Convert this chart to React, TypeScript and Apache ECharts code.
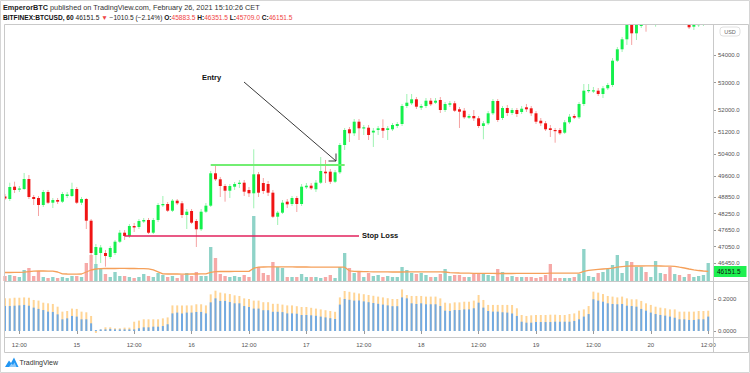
import React, { useEffect, useRef } from "react";
import * as echarts from "echarts";

const FONT = "'Liberation Sans', Arial, sans-serif";

// ---- time slots (hourly, BITFINEX:BTCUSD 60) ----
const START_DAY = 14;
const START_HOUR = 9;
const SLOT_COUNT = 149;
const categories: string[] = Array.from({ length: SLOT_COUNT }, (_, i) => {
  const t = START_HOUR + i;
  const d = START_DAY + Math.floor(t / 24);
  const h = t % 24;
  return `${d} ${String(h).padStart(2, "0")}:00`;
});

// ---- candles: [open, close, low, high] ----
const candles: number[][] = [
  [48870, 48798, 48743, 48961], [48779, 49214, 48707, 49370], [49225, 49106, 48997, 49406], [49124, 49160, 49033, 49250],
  [49142, 49504, 49106, 49722], [49504, 48852, 48779, 49649], [48852, 48779, 48562, 48924], [48816, 48562, 48163, 48888],
  [48562, 49033, 48490, 49106], [49033, 48645, 48598, 49106], [48645, 48743, 48453, 48816], [48743, 48682, 48598, 48816],
  [48682, 48961, 48634, 49033], [48888, 48943, 48816, 49033], [48888, 49142, 48852, 49370], [49142, 48645, 48598, 49214],
  [48645, 48779, 48562, 48852], [48779, 47993, 47692, 48816], [47993, 46823, 46508, 48055], [46750, 47040, 46424, 47149],
  [46823, 47022, 46461, 47113], [46823, 46714, 46326, 46932], [46678, 47004, 46605, 47077], [46823, 47232, 46750, 47294],
  [47232, 47558, 47185, 47656], [47558, 47439, 47294, 47656], [47439, 47801, 47366, 47873], [47801, 47747, 47584, 47910],
  [47765, 47982, 47692, 48055], [47964, 48019, 47910, 48091], [48019, 47558, 47511, 48091], [47558, 48019, 47511, 48091],
  [48019, 48562, 47946, 48634], [48551, 48598, 48490, 48888], [48598, 48356, 48308, 48671], [48356, 48718, 48308, 48779],
  [48718, 48624, 48562, 48779], [48624, 48200, 48091, 48707], [48200, 48319, 47692, 48417], [48345, 47921, 47874, 48417],
  [47982, 47682, 47040, 48055], [47682, 48319, 47620, 48417], [48319, 48537, 48272, 48634], [48537, 49711, 48490, 49794],
  [49711, 49493, 49432, 50011], [49493, 49250, 48852, 49577], [49250, 49080, 48682, 49323], [49080, 49250, 48816, 49323],
  [49225, 49323, 49106, 49395], [49323, 49370, 49178, 49468], [49370, 49044, 48888, 49468], [49106, 48986, 48852, 49214],
  [48986, 49674, 48442, 50580], [49674, 49008, 48852, 49758], [49359, 49069, 48961, 49540], [49323, 49008, 48888, 49432],
  [49008, 48138, 48091, 49106], [48138, 48283, 47837, 48345], [48283, 48645, 48236, 48743], [48682, 48587, 48453, 48779],
  [48598, 48816, 48526, 48888], [48816, 48598, 48308, 48888], [48598, 49225, 48526, 49323], [49203, 49261, 49142, 49359],
  [49261, 49167, 49106, 49359], [49131, 49370, 49033, 49468], [49370, 49794, 49323, 50301], [49769, 49711, 49359, 50193],
  [49769, 49406, 49323, 49866], [49406, 49747, 49359, 49830], [49747, 50736, 49685, 50808], [50736, 51280, 50555, 51352],
  [51305, 51160, 50845, 51388], [51160, 51580, 51062, 51678], [51580, 51341, 50917, 51678], [51341, 51377, 51098, 51461],
  [51363, 51098, 50917, 51461], [51189, 51254, 50664, 51352], [51280, 51341, 51098, 51424], [51352, 51254, 50990, 51667],
  [51280, 51341, 50917, 51424], [51305, 51461, 51243, 51533], [51424, 51497, 51352, 51569], [51497, 52149, 51424, 52222],
  [52149, 52269, 52077, 52584], [52247, 52392, 52185, 52584], [52392, 52124, 52041, 52475], [52088, 52149, 52004, 52222],
  [52149, 52341, 52077, 52439], [52341, 52211, 52149, 52439], [52269, 52341, 52222, 52439], [52367, 52004, 51896, 52475],
  [52004, 52222, 51932, 52294], [52196, 52247, 52113, 52330], [52247, 51979, 51932, 52330], [52030, 51943, 51352, 52113],
  [51979, 51740, 51678, 52077], [51725, 51787, 51678, 51859], [51787, 51703, 51606, 52004], [51703, 51424, 51352, 51787],
  [51424, 51522, 50943, 51606], [51522, 51885, 51461, 51968], [51885, 52330, 51823, 52403], [52330, 51642, 51570, 52403],
  [51714, 52077, 51642, 52149], [52077, 51896, 51787, 52185], [51896, 52004, 51823, 52077], [52004, 51859, 51751, 52077],
  [51932, 52051, 51859, 52149], [52102, 52030, 51932, 52222], [52066, 51885, 51787, 52149], [51885, 51580, 51497, 51968],
  [51616, 51522, 51424, 51714], [51522, 51305, 51243, 51606], [51341, 51280, 51026, 51461], [51280, 51243, 50819, 51352],
  [51280, 51160, 51098, 51352], [51182, 51559, 51134, 51642], [51559, 51761, 51497, 51859], [51787, 51725, 51678, 51859],
  [51740, 52222, 51678, 52294], [52222, 52704, 52149, 52946], [52693, 52729, 52620, 52946], [52693, 52718, 52620, 52838],
  [52704, 52584, 52511, 52801], [52584, 52791, 52439, 52874], [52791, 52910, 52729, 52983], [52910, 53791, 52838, 53888],
  [53791, 54204, 53743, 54287], [54204, 54566, 54106, 54649], [54566, 55084, 54360, 55157], [55084, 54783, 54360, 55157],
  [54783, 55084, 54541, 55193], [55048, 55120, 54975, 55265], [55338, 55193, 54841, 55483], [55193, 55555, 55120, 55700],
  [55555, 55700, 55023, 55809], [55700, 55809, 55447, 55918], [55809, 55628, 55410, 55918], [55628, 55410, 55265, 55773],
  [55410, 55628, 55265, 55773], [55628, 55410, 55229, 55773], [55338, 55483, 55193, 55628], [55265, 55001, 54939, 55338],
  [55023, 55084, 54903, 55193], [55084, 55120, 55012, 55193], [55102, 55146, 55048, 55265], [55146, 55447, 55120, 55628],
];

// ---- volume (BTC) ----
const volumes: number[] = [
  125, 150, 125, 100, 275, 325, 125, 250, 100, 75, 100, 75, 100, 75, 125, 125, 100, 450, 650, 425,
  300, 175, 100, 225, 125, 125, 100, 75, 100, 175, 125, 100, 200, 150, 100, 125, 75, 150, 200, 125,
  225, 125, 125, 850, 575, 175, 125, 100, 125, 100, 150, 100, 1625, 350, 200, 150, 475, 350, 325, 100,
  100, 100, 175, 100, 100, 100, 75, 100, 150, 75, 350, 700, 325, 200, 225, 100, 200, 125, 150, 100,
  125, 100, 100, 350, 275, 200, 175, 200, 150, 100, 100, 175, 300, 125, 150, 150, 100, 100, 175, 200,
  175, 150, 125, 300, 225, 100, 125, 100, 100, 100, 100, 75, 100, 150, 425, 75, 75, 75, 75, 100,
  175, 800, 125, 100, 200, 225, 300, 400, 650, 200, 500, 475, 350, 350, 225, 100, 500, 200, 175, 350,
  175, 150, 100, 175, 100, 125, 150, 450,
];

// ---- volume moving average (BTC) ----
const volumeMA: number[] = [
  212, 212, 215, 218, 222, 235, 245, 250, 250, 248, 245, 225, 180, 175, 172, 172, 175, 225, 275, 300,
  310, 312, 312, 312, 314, 314, 312, 312, 310, 308, 305, 280, 230, 180, 175, 175, 175, 172, 172, 175,
  175, 178, 180, 215, 235, 238, 238, 238, 240, 240, 240, 240, 320, 345, 350, 352, 352, 355, 355, 355,
  352, 350, 350, 350, 348, 348, 348, 345, 345, 345, 345, 345, 255, 240, 238, 235, 232, 230, 228, 228,
  226, 225, 225, 225, 226, 228, 230, 230, 230, 228, 228, 226, 225, 210, 205, 200, 198, 195, 192, 192,
  190, 190, 190, 188, 188, 188, 188, 190, 190, 190, 190, 192, 192, 192, 195, 195, 195, 195, 195, 195,
  198, 240, 265, 280, 290, 300, 310, 320, 345, 360, 370, 375, 375, 375, 378, 378, 378, 375, 372, 370,
  368, 345, 325, 300, 280, 262, 250, 240,
];

// ---- lower pane oscillator ----
const oscOrange: number[] = [
  0.204, 0.204, 0.208, 0.208, 0.210, 0.208, 0.194, 0.190, 0.177, 0.173, 0.169, 0.152, 0.121, 0.125, 0.140, 0.138, 0.121, 0.117, 0.094, -0.012,
  0.008, 0.023, 0.023, 0.017, 0.017, 0.021, 0.021, 0.058, 0.065, 0.073, 0.073, 0.073, 0.073, 0.079, 0.085, 0.160, 0.160, 0.160, 0.160, 0.160,
  0.167, 0.167, 0.160, 0.229, 0.252, 0.240, 0.235, 0.231, 0.223, 0.219, 0.204, 0.200, 0.190, 0.190, 0.180, 0.180, 0.170, 0.170, 0.165, 0.160,
  0.160, 0.155, 0.150, 0.150, 0.145, 0.140, 0.135, 0.130, 0.125, 0.120, 0.210, 0.250, 0.245, 0.240, 0.235, 0.230, 0.225, 0.220, 0.215, 0.210,
  0.205, 0.200, 0.200, 0.260, 0.225, 0.219, 0.219, 0.219, 0.215, 0.215, 0.215, 0.204, 0.177, 0.173, 0.179, 0.179, 0.183, 0.183, 0.190, 0.225,
  0.194, 0.163, 0.163, 0.163, 0.163, 0.163, 0.163, 0.142, 0.100, 0.094, 0.098, 0.100, 0.100, 0.100, 0.102, 0.102, 0.100, 0.100, 0.106, 0.110,
  0.127, 0.135, 0.156, 0.246, 0.240, 0.231, 0.219, 0.215, 0.210, 0.215, 0.204, 0.198, 0.198, 0.188, 0.173, 0.163, 0.152, 0.146, 0.142, 0.135,
  0.135, 0.121, 0.121, 0.121, 0.121, 0.125, 0.125, 0.127,
];
const oscBlue: number[] = [
  0.156, 0.156, 0.158, 0.160, 0.163, 0.158, 0.146, 0.138, 0.131, 0.121, 0.119, 0.104, 0.073, 0.079, 0.094, 0.090, 0.073, 0.073, 0.048, 0.006,
  0.010, 0.010, 0.013, 0.010, 0.010, 0.010, 0.010, 0.010, 0.017, 0.023, 0.023, 0.027, 0.027, 0.031, 0.042, 0.110, 0.115, 0.110, 0.115, 0.115,
  0.119, 0.119, 0.110, 0.179, 0.204, 0.188, 0.188, 0.181, 0.173, 0.173, 0.156, 0.150, 0.140, 0.140, 0.130, 0.130, 0.120, 0.120, 0.118, 0.110,
  0.110, 0.108, 0.100, 0.100, 0.098, 0.095, 0.090, 0.085, 0.080, 0.075, 0.165, 0.200, 0.195, 0.190, 0.190, 0.185, 0.180, 0.175, 0.170, 0.165,
  0.160, 0.155, 0.155, 0.210, 0.204, 0.173, 0.169, 0.173, 0.167, 0.167, 0.167, 0.156, 0.127, 0.125, 0.131, 0.131, 0.135, 0.135, 0.142, 0.177,
  0.146, 0.125, 0.121, 0.121, 0.117, 0.115, 0.110, 0.094, 0.058, 0.052, 0.052, 0.056, 0.056, 0.056, 0.056, 0.058, 0.058, 0.058, 0.058, 0.063,
  0.073, 0.090, 0.106, 0.198, 0.190, 0.183, 0.173, 0.169, 0.167, 0.169, 0.158, 0.156, 0.152, 0.138, 0.127, 0.115, 0.106, 0.100, 0.096, 0.090,
  0.083, 0.073, 0.073, 0.069, 0.069, 0.073, 0.073, 0.090,
];

// ---- axis ticks & levels ----
const priceTicks = [46450, 47050, 47650, 48250, 48850, 49600, 50400, 51200, 52000, 53000, 54000];
const oscTicks = [0, 0.2];
const lastPrice = 46151.5;
const entryLevel = 50010;
const entryFrom = 43;
const entryTo = 71;
const stopLevel = 47450;
const stopFrom = 25.1;
const stopTo = 73.7;

const UP = "#14f04c";
const DN = "#f01414";
const WICK_UP = "#9ef2b2";
const WICK_DN = "#f5a3a3";
const VOL_UP = "#8fd3c8";
const VOL_DN = "#f6a9a7";
const FRAME = "#c9c9c9";

const isLabelSlot = (_i: number, v: string) => v.endsWith(" 00:00") || v.endsWith(" 12:00");

function buildOption(): any {
  const candleData = candles.map((c, i) => [i, c[0], c[1], c[2], c[3]]);
  const volData = volumes.map((v, i) => ({
    value: v,
    itemStyle: { color: candles[i][1] >= candles[i][0] ? VOL_UP : VOL_DN },
  }));

  return {
    animation: false,
    backgroundColor: "#ffffff",
    textStyle: { fontFamily: FONT },
    grid: [
      { left: 5, right: 37, top: 25, height: 256 },
      { left: 5, right: 37, top: 281, height: 56 },
    ],
    xAxis: [
      {
        type: "category",
        gridIndex: 0,
        data: categories,
        boundaryGap: false,
        axisLine: { show: false },
        axisTick: { show: false },
        axisLabel: { show: false },
        splitLine: { show: false },
      },
      {
        type: "category",
        gridIndex: 1,
        data: categories,
        boundaryGap: false,
        axisLine: { show: false },
        axisTick: { show: true, interval: isLabelSlot, length: 3, lineStyle: { color: "#9a9a9a" } },
        axisLabel: {
          interval: isLabelSlot,
          fontSize: 6,
          color: "#555",
          margin: 5,
          fontFamily: FONT,
          formatter: (v: string) => {
            const [d, hm] = v.split(" ");
            return hm === "00:00" ? d : hm;
          },
        },
        splitLine: { show: false },
      },
    ],
    yAxis: [
      {
        type: "value",
        gridIndex: 0,
        position: "right",
        min: 45808,
        max: 55084,
        axisLine: { show: false },
        axisTick: { show: true, customValues: priceTicks, length: 3, lineStyle: { color: "#9a9a9a" } },
        axisLabel: {
          customValues: priceTicks,
          fontSize: 6,
          color: "#555",
          margin: 5,
          fontFamily: FONT,
          formatter: (v: number) => v.toFixed(1),
        },
        splitLine: { show: false },
      },
      {
        type: "value",
        gridIndex: 0,
        min: 0,
        max: 6400,
        show: false,
      },
      {
        type: "value",
        gridIndex: 1,
        position: "right",
        min: -0.0375,
        max: 0.3125,
        axisLine: { show: false },
        axisTick: { show: true, customValues: oscTicks, length: 3, lineStyle: { color: "#9a9a9a" } },
        axisLabel: {
          customValues: oscTicks,
          fontSize: 6,
          color: "#555",
          margin: 5,
          fontFamily: FONT,
          formatter: (v: number) => v.toFixed(4),
        },
        splitLine: { show: false },
      },
    ],
    series: [
      {
        name: "Volume",
        type: "bar",
        xAxisIndex: 0,
        yAxisIndex: 1,
        data: volData,
        barWidth: "70%",
        silent: true,
        z: 1,
      },
      {
        name: "Volume MA",
        type: "line",
        xAxisIndex: 0,
        yAxisIndex: 1,
        data: volumeMA,
        showSymbol: false,
        symbol: "none",
        lineStyle: { color: "#f5a05a", width: 1.3 },
        silent: true,
        z: 2,
      },
      {
        name: "BTCUSD",
        type: "custom",
        xAxisIndex: 0,
        yAxisIndex: 0,
        data: candleData,
        clip: true,
        z: 3,
        encode: { x: 0, y: [1, 2, 3, 4] },
        renderItem: (_params: any, api: any) => {
          const x = api.value(0);
          const o = api.value(1);
          const c = api.value(2);
          const l = api.value(3);
          const h = api.value(4);
          const po = api.coord([x, o]);
          const pc = api.coord([x, c]);
          const pl = api.coord([x, l]);
          const ph = api.coord([x, h]);
          const w = api.size([1, 0])[0] * 0.62;
          const up = c >= o;
          const top = Math.min(po[1], pc[1]);
          const bh = Math.max(Math.abs(po[1] - pc[1]), 1.2);
          return {
            type: "group",
            children: [
              {
                type: "line",
                shape: { x1: ph[0], y1: ph[1], x2: pl[0], y2: pl[1] },
                style: { stroke: up ? WICK_UP : WICK_DN, lineWidth: 1 },
              },
              {
                type: "rect",
                shape: { x: po[0] - w / 2, y: top, width: w, height: bh },
                style: { fill: up ? UP : DN },
              },
            ],
          };
        },
      },
      {
        name: "Levels",
        type: "line",
        xAxisIndex: 0,
        yAxisIndex: 0,
        data: [],
        silent: true,
        z: 5,
        markLine: {
          silent: true,
          symbol: ["none", "none"],
          animation: false,
          data: [
            [
              { coord: [entryFrom, entryLevel], lineStyle: { color: "#72ee72", width: 2, type: "solid" }, label: { show: false } },
              { coord: [entryTo, entryLevel] },
            ],
            [
              {
                coord: [stopFrom, stopLevel],
                lineStyle: { color: "#e2225c", width: 1.6, type: "solid" },
                label: {
                  show: true,
                  position: "end",
                  formatter: "Stop Loss",
                  color: "#111",
                  fontWeight: "bold",
                  fontSize: 7.5,
                  fontFamily: FONT,
                  distance: 3,
                },
              },
              { coord: [stopTo, stopLevel] },
            ],
            [
              {
                coord: [0, lastPrice],
                lineStyle: { color: "rgba(0,0,0,0)", width: 0.1, type: "solid" },
                label: {
                  show: true,
                  position: "end",
                  formatter: lastPrice.toFixed(1),
                  backgroundColor: "#1ef050",
                  color: "#111",
                  fontSize: 6.5,
                  fontFamily: FONT,
                  padding: [2, 6, 2, 4],
                  distance: 0,
                },
              },
              { coord: [SLOT_COUNT - 1, lastPrice] },
            ],
          ],
        },
      },
      {
        name: "Osc A",
        type: "bar",
        xAxisIndex: 1,
        yAxisIndex: 2,
        data: oscOrange,
        barWidth: 2,
        itemStyle: { color: "#ffd596" },
        silent: true,
      },
      {
        name: "Osc B",
        type: "bar",
        xAxisIndex: 1,
        yAxisIndex: 2,
        data: oscBlue,
        barWidth: 2,
        barGap: "-100%",
        itemStyle: { color: "#72aae2" },
        silent: true,
      },
    ],
    graphic: [
      // outer border
      { type: "rect", shape: { x: 0.5, y: 0.5, width: 749, height: 372 }, style: { fill: "none", stroke: "#d6d6d6", lineWidth: 1 }, silent: true, z: 10 },
      // chart frame
      { type: "rect", shape: { x: 4.5, y: 24.5, width: 744, height: 328 }, style: { fill: "none", stroke: FRAME, lineWidth: 1 }, silent: true, z: 10 },
      { type: "line", shape: { x1: 713.5, y1: 24.5, x2: 713.5, y2: 352.5 }, style: { stroke: FRAME, lineWidth: 1 }, silent: true, z: 10 },
      { type: "line", shape: { x1: 4.5, y1: 281.5, x2: 748.5, y2: 281.5 }, style: { stroke: FRAME, lineWidth: 1 }, silent: true, z: 10 },
      { type: "line", shape: { x1: 4.5, y1: 337.5, x2: 748.5, y2: 337.5 }, style: { stroke: FRAME, lineWidth: 1 }, silent: true, z: 10 },
      // header
      {
        type: "text",
        x: 3,
        y: 7,
        silent: true,
        style: {
          text: "{b|EmperorBTC} published on TradingView.com, February 26, 2021 15:10:26 CET",
          fontSize: 7.3,
          fontFamily: FONT,
          fill: "#333",
          verticalAlign: "middle",
          rich: { b: { fontWeight: "bold", fontSize: 7.3, fontFamily: FONT, fill: "#222" } },
        },
      },
      {
        type: "text",
        x: 3,
        y: 17.5,
        silent: true,
        style: {
          text: "{b|BITFINEX:BTCUSD, 60} 46151.5 {r|▼} −1010.5 (−2.14%) {b|O:}{r|45883.5} {b|H:}{r|46351.5} {b|L:}{r|45709.0} {b|C:}{r|46151.5}",
          fontSize: 6.6,
          fontFamily: FONT,
          fill: "#222",
          verticalAlign: "middle",
          rich: {
            b: { fontWeight: "bold", fontSize: 6.6, fontFamily: FONT, fill: "#111" },
            r: { fontSize: 6.6, fontFamily: FONT, fill: "#ef4444" },
          },
        },
      },
      // USD currency badge at the top of the price scale
      {
        type: "rect",
        shape: { x: 720, y: 27, width: 20, height: 9, r: 3 },
        style: { fill: "#fff", stroke: "#d8d8d8", lineWidth: 0.8 },
        silent: true,
        z: 20,
      },
      {
        type: "text",
        x: 730,
        y: 31.5,
        silent: true,
        z: 21,
        style: { text: "USD", fontSize: 5.5, fontFamily: FONT, fill: "#666", align: "center", verticalAlign: "middle" },
      },
      // Entry annotation
      {
        type: "text",
        x: 202,
        y: 77,
        silent: true,
        z: 20,
        style: { text: "Entry", fontSize: 7.5, fontWeight: "bold", fontFamily: FONT, fill: "#111", verticalAlign: "middle" },
      },
      { type: "line", shape: { x1: 244, y1: 82, x2: 336, y2: 161 }, style: { stroke: "#222", lineWidth: 0.9 }, silent: true, z: 20 },
      {
        type: "polyline",
        shape: { points: [[328.5, 161], [336, 161], [336, 153.5]] },
        style: { stroke: "#222", lineWidth: 0.9, fill: "none" },
        silent: true,
        z: 20,
      },
      // TradingView logo
      {
        type: "polygon",
        shape: { points: [[5, 367], [9, 360.5], [11, 363], [14, 357.5], [18.5, 367]] },
        style: { fill: "#2196f3" },
        silent: true,
      },
      {
        type: "polygon",
        shape: { points: [[9, 367], [11.5, 363.5], [13, 365], [14.5, 362.5], [16.5, 367]] },
        style: { fill: "#90caf9" },
        silent: true,
      },
      {
        type: "text",
        x: 19.5,
        y: 362.5,
        silent: true,
        style: { text: "TradingView", fontSize: 7, fontFamily: FONT, fill: "#333", verticalAlign: "middle" },
      },
    ],
  };
}

export default function App() {
  const ref = useRef<HTMLDivElement>(null);
  useEffect(() => {
    document.body.style.margin = "0";
    if (!ref.current) return;
    const chart = echarts.init(ref.current, null, { renderer: "svg", width: 750, height: 373 });
    chart.setOption(buildOption());
    return () => chart.dispose();
  }, []);
  return <div ref={ref} style={{ width: 750, height: 373, background: "#fff" }} />;
}
